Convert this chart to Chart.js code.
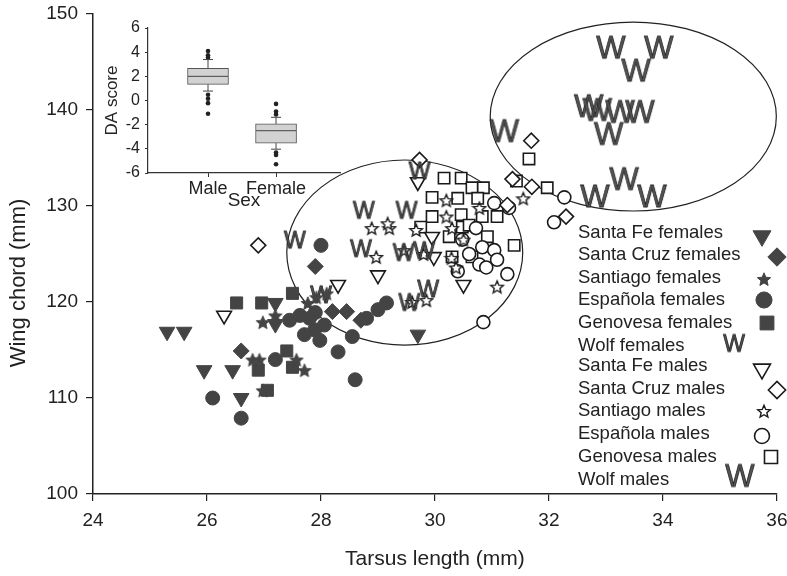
<!DOCTYPE html>
<html>
<head>
<meta charset="utf-8">
<script src="https://cdn.jsdelivr.net/npm/chart.js@4"></script>
<style>
  html, body { margin: 0; padding: 0; background: #fff; }
  #wrap { position: relative; width: 787px; height: 576px; }
  #main { position: absolute; left: 0; top: 0; }
  #inset { position: absolute; left: 90px; top: 10px; }
</style>
</head>
<body>
<div id="wrap">
  <canvas id="main" width="787" height="576" style="width:787px;height:576px"></canvas>
  <canvas id="inset" width="260" height="205" style="width:260px;height:205px"></canvas>
</div>
<script>
// ---- data: [tarsus length, wing chord] ----
const santaFeFemales = [[25.3, 116.9], [25.6, 116.9], [25.95, 112.9], [26.45, 112.9], [26.6, 110.0],
  [27.2, 119.9], [27.2, 117.7], [29.7, 116.6]];
const santaCruzFemales = [[26.6, 114.9], [27.9, 123.7], [28.2, 119.0], [28.45, 119.0], [28.7, 118.1]];
const santiagoFemales = [[26.98, 117.9], [27.2, 118.6], [26.8, 114.0], [26.92, 114.0], [27.57, 114.0],
  [27.71, 112.9], [26.98, 110.8], [27.77, 119.9], [27.92, 120.5], [28.1, 120.9]];
const espanolaFemales = [[26.1, 110.0], [26.6, 107.9], [27.2, 114.0], [28.3, 114.8], [28.6, 111.9],
  [28.55, 116.4], [28.0, 125.9], [29.0, 119.2], [29.15, 119.9], [28.8, 118.3], [27.45, 118.1],
  [27.63, 118.6], [27.8, 118.3], [27.89, 117.1], [27.98, 116.0], [27.71, 116.6], [28.06, 117.6], [27.9, 118.9]];
const genovesaFemales = [[26.52, 119.9], [26.96, 119.9], [27.5, 120.9], [27.4, 114.9], [26.9, 112.9],
  [27.06, 110.8], [27.5, 113.2]];
const wolfFemales = [[27.54, 126.5], [28.75, 129.6], [29.5, 129.6], [28.7, 125.6], [29.45, 125.2],
  [29.81, 125.4], [29.88, 121.4], [29.55, 120.0], [29.73, 133.7], [28.0, 120.8]];
const santaFeMales = [[26.3, 118.6], [28.3, 121.8], [29.0, 122.8], [30.5, 121.8], [29.95, 126.8],
  [29.98, 124.7], [29.7, 132.5]];
const santaCruzMales = [[26.9, 125.9], [29.73, 134.8], [31.69, 136.8], [31.36, 132.8], [31.7, 132.0],
  [32.3, 128.9], [31.27, 130.1]];
const santiagoMales = [[28.89, 127.7], [29.2, 127.7], [28.97, 124.7], [29.46, 125.4], [29.67, 127.5],
  [29.17, 128.2], [29.85, 120.2], [29.6, 120.0], [30.2, 130.6], [30.2, 128.9], [30.3, 127.7],
  [30.29, 124.6], [30.37, 123.6], [30.78, 129.8], [31.09, 121.6], [31.55, 130.8], [29.8, 125.0], [30.5, 126.5]];
const espanolaMales = [[30.72, 127.7], [30.48, 126.5], [30.83, 125.7], [31.04, 125.4], [31.09, 124.4],
  [30.78, 123.9], [30.9, 123.6], [31.27, 122.9], [31.04, 130.3], [32.27, 130.9], [32.09, 128.3],
  [30.85, 117.9], [30.6, 125.0], [31.3, 129.8], [30.4, 123.2]];
const genovesaMales = [[30.16, 132.9], [30.46, 132.9], [30.65, 131.9], [30.85, 131.9], [29.95, 130.9],
  [30.75, 130.8], [29.95, 128.9], [30.46, 129.1], [30.83, 128.9], [31.09, 128.9], [30.48, 127.8],
  [30.25, 126.8], [30.92, 126.8], [30.65, 124.7], [30.3, 124.7], [31.39, 125.9], [29.75, 127.8],
  [31.65, 134.9], [31.43, 132.6], [31.97, 131.9], [30.4, 130.8], [30.6, 128.0]];
const wolfMales = [[33.09, 146.6], [33.93, 146.6], [33.53, 144.2], [32.7, 140.5], [32.85, 140.1],
  [33.25, 139.9], [33.6, 139.9], [33.05, 137.6], [31.22, 137.9], [32.81, 131.1], [33.32, 132.9], [33.81, 131.1]];

const groupLabels = ["Santa Fe females", "Santa Cruz females", "Santiago females", "Española females",
  "Genovesa females", "Wolf females", "Santa Fe males", "Santa Cruz males", "Santiago males",
  "Española males", "Genovesa males", "Wolf males"];
const groupData = [santaFeFemales, santaCruzFemales, santiagoFemales, espanolaFemales, genovesaFemales,
  wolfFemales, santaFeMales, santaCruzMales, santiagoMales, espanolaMales, genovesaMales, wolfMales];

// ellipses: [centre x, centre y, radius x, radius y] in data units
const ellipseLow = [29.47, 125.15, 2.07, 9.64];
const ellipseHigh = [33.48, 139.32, 2.51, 9.84];

// inset box plot: [lower whisker, q1, median, q3, upper whisker]
const boxSex = ["Male", "Female"];
const boxStats = [[0.78, 1.33, 2.0, 2.67, 3.39], [-4.03, -3.53, -2.5, -1.94, -1.39]];
const maleOutliers = [4.1, 3.75, 3.55, 0.47, 0.14, -0.22, -1.1];
const femaleOutliers = [-0.28, -0.92, -1.15, -4.3, -4.5, -5.28];

// ---- marker images ----
const FONT = '"Liberation Sans", Arial, sans-serif';
const DARK = '#444';
const INK = '#1a1a1a';

function starImage(size, fill, stroke, lw) {
  const c = document.createElement('canvas');
  c.width = c.height = size;
  const g = c.getContext('2d');
  const cx = size / 2, cy = size / 2 + size * 0.05, R = size / 2 - lw, r = R * 0.45;
  g.beginPath();
  for (let k = 0; k < 10; k++) {
    const a = -Math.PI / 2 + k * Math.PI / 5;
    const rr = k % 2 ? r : R;
    g.lineTo(cx + rr * Math.cos(a), cy + rr * Math.sin(a));
  }
  g.closePath();
  g.fillStyle = fill;
  g.fill();
  g.strokeStyle = stroke;
  g.lineWidth = lw;
  g.stroke();
  return c;
}

function wImage(fontSize) {
  const c = document.createElement('canvas');
  c.width = Math.ceil(fontSize * 1.02) + 4;
  c.height = Math.ceil(fontSize * 0.8) + 4;
  const g = c.getContext('2d');
  g.font = fontSize + 'px ' + FONT;
  g.textAlign = 'center';
  g.textBaseline = 'alphabetic';
  const y = c.height / 2 + fontSize * 0.358;
  g.fillStyle = '#555';
  g.fillText('W', c.width / 2, y);
  g.strokeStyle = '#222';
  g.lineWidth = 0.8;
  g.strokeText('W', c.width / 2, y);
  return c;
}

const starFilled = starImage(16, DARK, DARK, 1);
const starOpen = starImage(16, '#fff', INK, 1.4);
const wSmall = wImage(23);
const wBig = wImage(31);

// marker style for each group (same order as groupLabels)
const markers = [
  { style: 'triangle', rot: 180, r: 9, fill: DARK, line: DARK, w: 1 },
  { style: 'rectRot', rot: 0, r: 8, fill: DARK, line: DARK, w: 1 },
  { style: starFilled, rot: 0, r: 5, fill: DARK, line: DARK, w: 1 },
  { style: 'circle', rot: 0, r: 7, fill: DARK, line: DARK, w: 1 },
  { style: 'rect', rot: 0, r: 8.5, fill: DARK, line: DARK, w: 1 },
  { style: wSmall, rot: 0, r: 5, fill: DARK, line: DARK, w: 1 },
  { style: 'triangle', rot: 180, r: 8.5, fill: '#fff', line: INK, w: 1.6 },
  { style: 'rectRot', rot: 0, r: 7.5, fill: '#fff', line: INK, w: 1.6 },
  { style: starOpen, rot: 0, r: 5, fill: '#fff', line: INK, w: 1.6 },
  { style: 'circle', rot: 0, r: 6.5, fill: '#fff', line: INK, w: 1.6 },
  { style: 'rect', rot: 0, r: 8, fill: '#fff', line: INK, w: 1.6 },
  { style: wBig, rot: 0, r: 5, fill: DARK, line: DARK, w: 1 }
];

const datasets = groupData.map((pts, i) => ({
  label: groupLabels[i],
  data: pts.map(p => ({ x: p[0], y: p[1] })),
  pointStyle: markers[i].style,
  pointRotation: markers[i].rot,
  pointRadius: markers[i].r,
  pointBackgroundColor: markers[i].fill,
  pointBorderColor: markers[i].line,
  pointBorderWidth: markers[i].w,
  clip: false
}));

Chart.defaults.font.family = FONT;
Chart.defaults.color = '#222';

// draws the two ellipses through the chart scales
const ellipsePlugin = {
  id: 'ellipses',
  beforeDatasetsDraw(chart) {
    const { ctx, scales: { x, y } } = chart;
    ctx.save();
    ctx.strokeStyle = '#222';
    ctx.lineWidth = 1.2;
    [ellipseLow, ellipseHigh].forEach(e => {
      const cx = x.getPixelForValue(e[0]);
      const cy = y.getPixelForValue(e[1]);
      const rx = Math.abs(x.getPixelForValue(e[0] + e[2]) - cx);
      const ry = Math.abs(y.getPixelForValue(e[1] + e[3]) - cy);
      ctx.beginPath();
      ctx.ellipse(cx, cy, rx, ry, 0, 0, Math.PI * 2);
      ctx.stroke();
    });
    ctx.restore();
  }
};

// legend on the right: text left, marker right
const sideLegend = {
  id: 'sideLegend',
  afterDraw(chart) {
    const ctx = chart.ctx;
    const textY = [233, 255, 278, 300, 323, 346, 366, 389, 411, 434, 457, 480];
    const markX = [762, 777, 764, 764, 767, 734, 762, 777, 764, 762, 771, 740];
    const markY = [236, 257, 279, 300, 323, 343, 369, 390, 411, 436, 457, 475];
    ctx.save();
    ctx.font = '18.5px ' + FONT;
    ctx.textBaseline = 'middle';
    groupLabels.forEach((label, i) => {
      ctx.fillStyle = '#222';
      ctx.fillText(label, 578, textY[i]);
      const m = markers[i];
      ctx.fillStyle = m.fill;
      ctx.strokeStyle = m.line;
      ctx.lineWidth = m.w;
      Chart.helpers.drawPoint(ctx, {
        pointStyle: m.style, rotation: m.rot, radius: m.r * 1.15, borderWidth: m.w
      }, markX[i], markY[i]);
    });
    ctx.restore();
  }
};

// y axis title, sits a little below the axis centre in the original
const yTitle = {
  id: 'yTitle',
  afterDraw(chart) {
    const ctx = chart.ctx;
    ctx.save();
    ctx.translate(19, 283);
    ctx.rotate(-Math.PI / 2);
    ctx.font = '22px ' + FONT;
    ctx.fillStyle = '#222';
    ctx.textAlign = 'center';
    ctx.textBaseline = 'middle';
    ctx.fillText('Wing chord (mm)', 0, 0);
    ctx.restore();
  }
};

new Chart(document.getElementById('main'), {
  type: 'scatter',
  data: { datasets: datasets },
  options: {
    responsive: false,
    animation: false,
    events: [],
    layout: { padding: { left: 0, right: 9, top: 14, bottom: 0 } },
    plugins: { legend: { display: false }, tooltip: { enabled: false } },
    scales: {
      x: {
        type: 'linear', min: 24, max: 36,
        ticks: { stepSize: 2, font: { size: 19 }, color: '#222', padding: 8, maxRotation: 0 },
        grid: { drawOnChartArea: false, tickLength: 7, color: '#222', lineWidth: 1.2 },
        border: { color: '#222', width: 1.5 },
        title: { display: true, text: 'Tarsus length (mm)', font: { size: 21 }, color: '#222', padding: { top: 0, bottom: 4 } },
        afterFit(s) { s.height = 82; s.paddingLeft = 0; s.paddingRight = 0; }
      },
      y: {
        min: 100, max: 150,
        ticks: { stepSize: 10, font: { size: 19 }, color: '#222', padding: 8 },
        grid: { drawOnChartArea: false, tickLength: 7, color: '#222', lineWidth: 1.2 },
        border: { color: '#222', width: 1.5 },
        afterFit(s) { s.width = 93; s.paddingTop = 0; s.paddingBottom = 0; }
      }
    }
  },
  plugins: [ellipsePlugin, sideLegend, yTitle]
});

// ---- inset box plot ----
const whiskers = {
  id: 'whiskers',
  afterDatasetsDraw(chart) {
    const { ctx, scales: { x, y } } = chart;
    ctx.save();
    ctx.strokeStyle = '#444';
    ctx.lineWidth = 1;
    boxStats.forEach((s, i) => {
      const cx = x.getPixelForValue(i + 1);
      ctx.beginPath();
      ctx.moveTo(cx, y.getPixelForValue(s[0]));
      ctx.lineTo(cx, y.getPixelForValue(s[1]));
      ctx.moveTo(cx, y.getPixelForValue(s[3]));
      ctx.lineTo(cx, y.getPixelForValue(s[4]));
      ctx.moveTo(cx - 5, y.getPixelForValue(s[0]));
      ctx.lineTo(cx + 5, y.getPixelForValue(s[0]));
      ctx.moveTo(cx - 5, y.getPixelForValue(s[4]));
      ctx.lineTo(cx + 5, y.getPixelForValue(s[4]));
      ctx.moveTo(cx - 20, y.getPixelForValue(s[2]));
      ctx.lineTo(cx + 20, y.getPixelForValue(s[2]));
      ctx.stroke();
    });
    ctx.restore();
  }
};

new Chart(document.getElementById('inset'), {
  type: 'bar',
  data: {
    datasets: [
      {
        type: 'bar',
        data: boxStats.map((s, i) => ({ x: i + 1, y: [s[1], s[3]] })),
        backgroundColor: '#d2d2d2',
        borderColor: '#555',
        borderWidth: 1,
        borderSkipped: false,
        barThickness: 41
      },
      {
        type: 'scatter',
        data: maleOutliers.map(v => ({ x: 1, y: v })).concat(femaleOutliers.map(v => ({ x: 2, y: v }))),
        pointRadius: 2.3,
        pointBackgroundColor: '#222',
        pointBorderWidth: 0
      }
    ]
  },
  options: {
    responsive: false,
    animation: false,
    events: [],
    layout: { padding: { left: 12, right: 10, top: 18, bottom: 0 } },
    plugins: { legend: { display: false }, tooltip: { enabled: false } },
    scales: {
      x: {
        type: 'linear', min: 0.118, max: 2.94, offset: false,
        afterBuildTicks(s) { s.ticks = boxSex.map((_, i) => ({ value: i + 1 })); },
        ticks: { callback: (v, i) => boxSex[i], font: { size: 18 }, color: '#222', padding: 1, maxRotation: 0 },
        grid: { drawOnChartArea: false, tickLength: 4, color: '#333', offset: false },
        border: { color: '#333', width: 1.2 },
        title: { display: true, text: 'Sex', font: { size: 19 }, color: '#222', padding: { top: 0, bottom: 3 } },
        afterFit(s) { s.height = 42; s.paddingLeft = 0; s.paddingRight = 0; }
      },
      y: {
        min: -6, max: 6,
        ticks: { stepSize: 2, font: { size: 16 }, color: '#222', padding: 5 },
        grid: { drawOnChartArea: false, tickLength: 3, color: '#333' },
        border: { color: '#333', width: 1.2 },
        title: { display: true, text: 'DA score', font: { size: 17 }, color: '#222', padding: { top: 0, bottom: 0 } },
        afterFit(s) { s.width = 46; s.paddingTop = 0; s.paddingBottom = 0; }
      }
    }
  },
  plugins: [whiskers]
});
</script>
</body>
</html>
